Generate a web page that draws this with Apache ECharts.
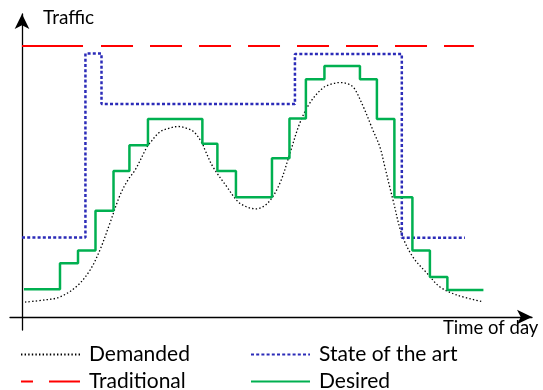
<!DOCTYPE html>
<html>
<head>
<meta charset="utf-8">
<script src="https://cdn.jsdelivr.net/npm/echarts@6/dist/echarts.min.js"></script>
<style>
  html, body { margin: 0; padding: 0; background: #fff; }
  #chart { width: 543px; height: 390px; }
</style>
</head>
<body>
<div id="chart"></div>
<script>
// Time slots along the x axis, traffic in % of the traditional provisioning
const demandedTime = [0.17, 1.3, 2.15, 3.11, 3.85, 4.41, 4.98, 5.55, 6.0, 6.4, 7.07, 7.24, 7.81, 8.37, 8.83, 9.28, 9.73, 10.19, 10.36, 10.81, 11.6, 12.22, 12.73, 13.24, 13.92, 14.6, 15.17, 15.73, 16.3, 17.03, 17.54, 17.99, 18.45, 18.79, 19.3, 19.86, 20.26, 20.54, 20.83, 21.0, 21.51, 22.13, 22.92, 23.66, 24.62, 26.03]
const demandedTraffic = [5.5, 6.3, 7.4, 11.4, 17.3, 24.7, 34.7, 45.0, 50.6, 54.2, 62.7, 64.2, 68.3, 69.7, 70.3, 69.7, 68.3, 64.2, 61.6, 55.4, 48.0, 42.6, 40.6, 39.9, 42.1, 49.4, 60.5, 71.6, 79.0, 84.5, 86.0, 86.5, 86.0, 84.5, 77.9, 69.0, 62.7, 55.4, 47.6, 43.2, 30.3, 22.1, 16.2, 11.1, 8.1, 5.7]

const desiredTime = [0.11, 2.15, 3.17, 4.16, 5.18, 6.08, 7.13, 10.21, 11.06, 12.11, 14.15, 15.14, 16.07, 17.12, 19.13, 20.09, 21.08, 22.1, 23.09, 24.08, 26.12]
const desiredTraffic = [10.2, 19.8, 24.5, 39.2, 53.9, 63.4, 73.1, 63.9, 53.9, 44.2, 58.6, 73.2, 87.7, 92.6, 87.7, 73.1, 44.2, 24.5, 14.8, 10.0, 10.0]

const stateTime = [0, 3.59, 4.5, 15.45, 21.5, 25.07]
const stateTraffic = [29.3, 97.2, 78.6, 97.0, 29.2, 29.2]

const traditionalTime = [0, 25.58]
const traditionalTraffic = [100, 100]

const zip = (xs, ys) => xs.map((x, i) => [x, ys[i]])

const FONT = 'Lato'

const chart = echarts.init(document.getElementById('chart'))

const axisBase = {
  type: 'value',
  axisLabel: { show: false },
  axisTick: { show: false },
  splitLine: { show: false },
  axisLine: {
    onZero: true,
    symbol: ['none', 'arrow'],
    symbolSize: [11, 15],
    lineStyle: { color: '#000', width: 1.3 }
  }
}

// one legend per item so the two columns line up
const legendAt = (name, left, top, lineStyle) => ({
  left: left,
  top: top,
  padding: 0,
  itemWidth: 59,
  itemHeight: 12,
  selectedMode: false,
  itemStyle: { opacity: 0 },  // line only, no marker
  textStyle: { fontFamily: FONT, fontSize: 21, color: '#000', padding: [0, 0, 0, 4] },
  data: [lineStyle ? { name: name, lineStyle: lineStyle } : name]
})

chart.setOption({
  animation: false,
  grid: { left: 10, right: 11, top: 14, bottom: 60 },
  xAxis: Object.assign({}, axisBase, { min: -0.68, max: 28.87 }),
  yAxis: Object.assign({}, axisBase, { min: -4.8, max: 111.8 }),
  legend: [
    legendAt('Demanded', 20, 344),
    legendAt('State of the art', 250, 344),
    legendAt('Traditional', 20, 371, { type: [12, 16, 31] }),
    legendAt('Desired', 250, 371)
  ],
  graphic: [
    { type: 'text', left: 43, top: 8, style: { text: 'Traffic', fontFamily: FONT, fontSize: 19, fill: '#000' } },
    { type: 'text', left: 443, top: 319, style: { text: 'Time of day', fontFamily: FONT, fontSize: 18.5, fill: '#000' } }
  ],
  series: [
    {
      name: 'Demanded',
      type: 'line',
      smooth: 0.35,
      symbol: 'none',
      lineStyle: { color: '#000', width: 1.3, type: [1.4, 2.2] },
      data: zip(demandedTime, demandedTraffic)
    },
    {
      name: 'State of the art',
      type: 'line',
      step: 'end',
      symbol: 'none',
      lineStyle: { color: '#2b2bb8', width: 2.5, type: [3, 2.2] },
      data: zip(stateTime, stateTraffic)
    },
    {
      name: 'Traditional',
      type: 'line',
      symbol: 'none',
      lineStyle: { color: '#ff0000', width: 2.2, type: [61, 18, 32, 17, 32, 17, 32, 17, 32, 17, 32, 17, 32, 17, 32, 17, 32, 17] },
      data: zip(traditionalTime, traditionalTraffic)
    },
    {
      name: 'Desired',
      type: 'line',
      step: 'end',
      symbol: 'none',
      lineStyle: { color: '#00b050', width: 2.5 },
      data: zip(desiredTime, desiredTraffic)
    }
  ]
})
</script>
</body>
</html>
